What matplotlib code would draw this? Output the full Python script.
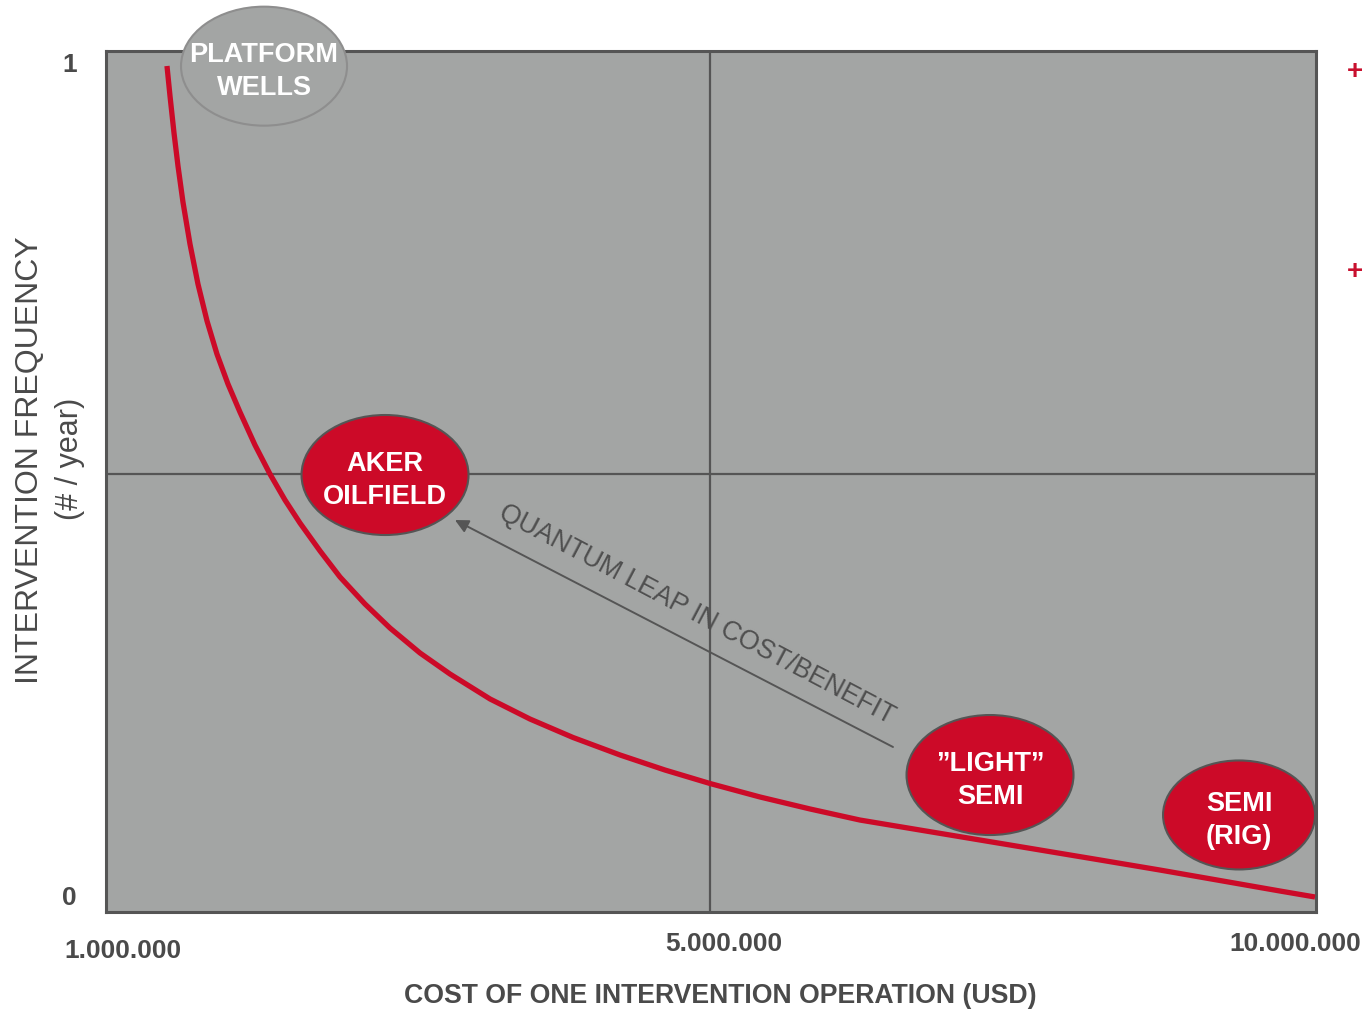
import matplotlib
matplotlib.use("Agg")
import matplotlib.pyplot as plt
from matplotlib.patches import Ellipse
from matplotlib.transforms import offset_copy

plt.rcParams['font.family'] = ['Liberation Sans', 'DejaVu Sans']

# ---- data (schematic units: x = relative cost position 0..1, y = intervention frequency 0..1)
curve_x = [0.0504, 0.0529, 0.0562, 0.0595, 0.0636, 0.0694, 0.0760, 0.0835, 0.0917,
           0.1008, 0.1107, 0.1231, 0.1355, 0.1479, 0.1603, 0.1769, 0.1934, 0.2140,
           0.2347, 0.2595, 0.2843, 0.3174, 0.3504, 0.3860, 0.4248, 0.4620, 0.4992,
           0.5405, 0.5818, 0.6231, 0.6727, 0.7223, 0.7719, 0.8215, 0.8711, 0.9207,
           0.9702, 0.9992]
curve_y = [0.9952, 0.9591, 0.9147, 0.8750, 0.8317, 0.7813, 0.7332, 0.6887, 0.6490,
           0.6130, 0.5793, 0.5397, 0.5048, 0.4736, 0.4459, 0.4123, 0.3810, 0.3486,
           0.3197, 0.2897, 0.2644, 0.2344, 0.2103, 0.1881, 0.1671, 0.1490, 0.1328,
           0.1166, 0.1022, 0.0889, 0.0769, 0.0649, 0.0529, 0.0409, 0.0288, 0.0162,
           0.0036, -0.0036]

technologies = ["PLATFORM\nWELLS", "AKER\nOILFIELD", "\u201dLIGHT\u201d\nSEMI", "SEMI\n(RIG)"]
tech_x = [0.1306, 0.2306, 0.7306, 0.9364]
tech_y = [0.995, 0.5036, 0.143, 0.095]
tech_highlight = [False, True, True, True]

ytick_values = [0, 1]
ytick_labels = ["0", "1"]
xtick_labels = ["1.000.000", "5.000.000", "10.000.000"]

arrow_from = (0.6504, 0.1767)
arrow_to = (0.2884, 0.4495)
arrow_text = "QUANTUM LEAP IN COST/BENEFIT"

# ---- styles
RED = "#cc0a28"
BG = "#a3a5a4"
DARK = "#555555"
TXT = "#4a4a4a"
W, H, DPI = 1365, 1012, 100

fig = plt.figure(figsize=(W / DPI, H / DPI), dpi=DPI)
ax = fig.add_axes([106 / W, (H - 913) / H, 1210 / W, 861 / H])
ax.set_facecolor(BG)
ax.set_xlim(0, 1)
ax.set_ylim(-0.02163, 1.01322)
for s in ax.spines.values():
    s.set_color(DARK)
    s.set_linewidth(2.2)

ax.axvline(0.4992, color=DARK, lw=1.6, zorder=1)
ax.axhline(0.5048, color=DARK, lw=1.6, zorder=1)

ax.plot(curve_x, curve_y, color=RED, lw=3.8, solid_capstyle='butt',
        solid_joinstyle='round', zorder=3)

# ellipses (sizes in pixels converted to data units)
sizes_px = [(166, 119), (167, 120), (167, 120), (152, 109)]
txt_trans = offset_copy(ax.transData, fig=fig, x=0, y=-3.2, units='points')
for name, x, y, hl, (wp, hp) in zip(technologies, tech_x, tech_y, tech_highlight, sizes_px):
    w = wp / 1210
    h = hp / 832
    if hl:
        e = Ellipse((x, y), w, h, facecolor=RED, edgecolor=DARK, lw=1.5, zorder=6, clip_on=False)
    else:
        e = Ellipse((x, y), w, h, facecolor=BG, edgecolor="#8e8e8e", lw=1.5, zorder=6, clip_on=False)
    ax.add_patch(e)
    ax.text(x, y, name, color="white", fontsize=19.5, fontweight="bold",
            ha="center", va="center", linespacing=1.32, zorder=7, clip_on=False,
            transform=txt_trans)

ax.annotate("", xy=arrow_to, xytext=arrow_from,
            arrowprops=dict(arrowstyle="-|>,head_length=0.8,head_width=0.4",
                            color=DARK, lw=1.4, shrinkA=0, shrinkB=0), zorder=4)
ax.text(0.4884, 0.3365, arrow_text, rotation=-27.8, rotation_mode="anchor",
        ha="center", va="center", fontsize=19.2, color="#4f4f4f", zorder=4)

# ticks
ax.set_xticks([])
ax.set_yticks(ytick_values)
ax.set_yticklabels(ytick_labels, fontsize=19, fontweight="bold", color=TXT)
ax.tick_params(axis="y", length=0, pad=21)

xl_pos = [(123, 951), (724, 944), (1295, 944)]
for lab, (px, py) in zip(xtick_labels, xl_pos):
    fig.text(px / W, 1 - py / H, lab, ha="center", va="center",
             fontsize=19, fontweight="bold", color=TXT)

fig.text(720 / W, 1 - 996 / H, "COST OF ONE INTERVENTION OPERATION (USD)",
         ha="center", va="center", fontsize=19.2, fontweight="bold", color=TXT)
fig.text(30 / W, 1 - 460 / H, "INTERVENTION FREQUENCY", rotation=90,
         ha="center", va="center", fontsize=23, color=TXT)
fig.text(70 / W, 1 - 459 / H, "(# / year)", rotation=90,
         ha="center", va="center", fontsize=22, color=TXT)

for py in (72, 272):
    fig.text(1355 / W, 1 - py / H, "+", ha="center", va="center",
             fontsize=20, fontweight="bold", color="#c8102e")

fig.savefig("out.png", dpi=DPI)
